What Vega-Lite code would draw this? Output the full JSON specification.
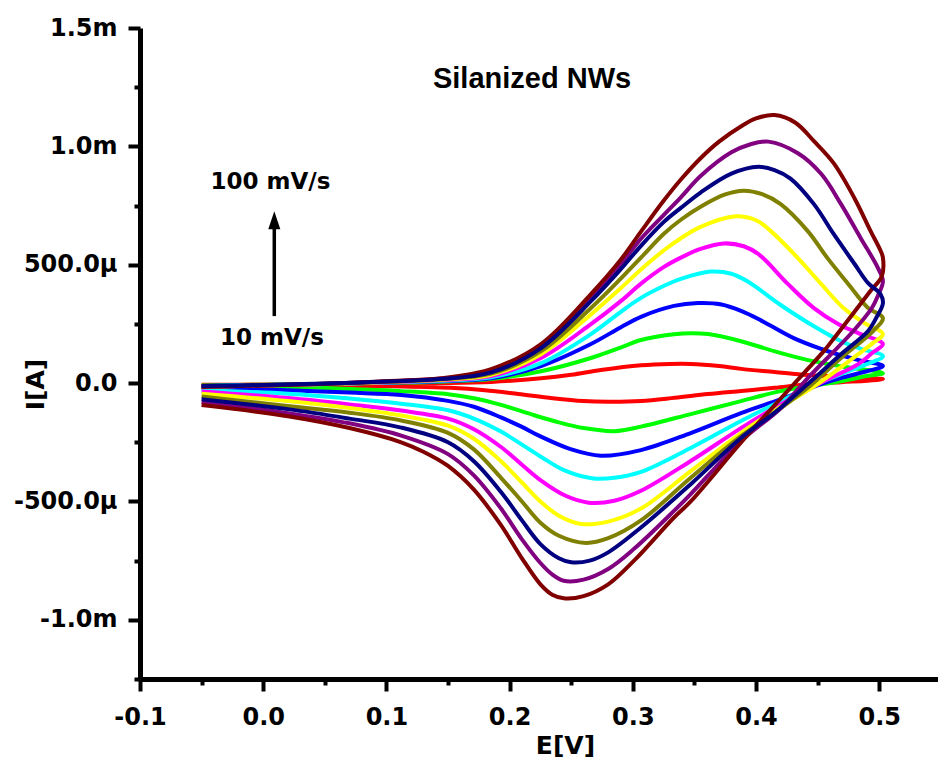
{
"$schema": "https://vega.github.io/schema/vega-lite/v6.json",
"width": 798, "height": 651,
"autosize": {"type": "none"},
"padding": {"left": 140, "top": 28, "right": 0, "bottom": 84},
"background": "white",
"config": {"view": {"stroke": null}},
"datasets": {
"cv": [
{"r":10,"E":-0.05,"I":-0.008},{"r":10,"E":0,"I":-0.006},{"r":10,"E":0.05,"I":-0.004},{"r":10,"E":0.1,"I":-0.002},{"r":10,"E":0.144,"I":0},{"r":10,"E":0.185,"I":0.005},{"r":10,"E":0.2255,"I":0.02},{"r":10,"E":0.25,"I":0.035},{"r":10,"E":0.274,"I":0.055},{"r":10,"E":0.3066,"I":0.075},{"r":10,"E":0.33,"I":0.081},{"r":10,"E":0.347,"I":0.081},{"r":10,"E":0.37,"I":0.072},{"r":10,"E":0.388,"I":0.06},{"r":10,"E":0.415,"I":0.047},{"r":10,"E":0.442,"I":0.034},{"r":10,"E":0.475,"I":0.025},{"r":10,"E":0.503,"I":0.017},
{"r":10,"E":0.49,"I":0.01},{"r":10,"E":0.469,"I":0.004},{"r":10,"E":0.44,"I":-0.006},{"r":10,"E":0.415,"I":-0.02},{"r":10,"E":0.388,"I":-0.033},{"r":10,"E":0.361,"I":-0.046},{"r":10,"E":0.334,"I":-0.062},{"r":10,"E":0.3066,"I":-0.076},{"r":10,"E":0.28,"I":-0.079},{"r":10,"E":0.26,"I":-0.076},{"r":10,"E":0.235,"I":-0.064},{"r":10,"E":0.207,"I":-0.046},{"r":10,"E":0.18,"I":-0.03},{"r":10,"E":0.152,"I":-0.02},{"r":10,"E":0.1,"I":-0.013},{"r":10,"E":0.05,"I":-0.01},{"r":10,"E":0,"I":-0.008},{"r":10,"E":-0.05,"I":-0.007},

{"r":20,"E":-0.05,"I":-0.01},{"r":20,"E":0,"I":-0.007},{"r":20,"E":0.05,"I":-0.004},{"r":20,"E":0.1,"I":0.001},{"r":20,"E":0.144,"I":0.006},{"r":20,"E":0.185,"I":0.017},{"r":20,"E":0.2255,"I":0.05},{"r":20,"E":0.266,"I":0.106},{"r":20,"E":0.29,"I":0.15},{"r":20,"E":0.3066,"I":0.182},{"r":20,"E":0.3334,"I":0.206},{"r":20,"E":0.347,"I":0.211},{"r":20,"E":0.361,"I":0.207},{"r":20,"E":0.3878,"I":0.177},{"r":20,"E":0.4146,"I":0.135},{"r":20,"E":0.4422,"I":0.097},{"r":20,"E":0.47,"I":0.07},{"r":20,"E":0.503,"I":0.042},
{"r":20,"E":0.49,"I":0.03},{"r":20,"E":0.469,"I":0.008},{"r":20,"E":0.445,"I":-0.012},{"r":20,"E":0.42,"I":-0.034},{"r":20,"E":0.3878,"I":-0.076},{"r":20,"E":0.347,"I":-0.131},{"r":20,"E":0.3066,"I":-0.184},{"r":20,"E":0.285,"I":-0.203},{"r":20,"E":0.26,"I":-0.19},{"r":20,"E":0.24,"I":-0.166},{"r":20,"E":0.22,"I":-0.136},{"r":20,"E":0.193,"I":-0.092},{"r":20,"E":0.171,"I":-0.064},{"r":20,"E":0.15,"I":-0.047},{"r":20,"E":0.112,"I":-0.034},{"r":20,"E":0.07,"I":-0.025},{"r":20,"E":0.02,"I":-0.015},{"r":20,"E":-0.05,"I":-0.01},

{"r":30,"E":-0.05,"I":-0.012},{"r":30,"E":0,"I":-0.008},{"r":30,"E":0.05,"I":-0.004},{"r":30,"E":0.1,"I":0.002},{"r":30,"E":0.144,"I":0.008},{"r":30,"E":0.185,"I":0.02},{"r":30,"E":0.2255,"I":0.072},{"r":30,"E":0.266,"I":0.165},{"r":30,"E":0.29,"I":0.235},{"r":30,"E":0.3066,"I":0.28},{"r":30,"E":0.3334,"I":0.326},{"r":30,"E":0.353,"I":0.338},{"r":30,"E":0.372,"I":0.332},{"r":30,"E":0.3878,"I":0.305},{"r":30,"E":0.404,"I":0.265},{"r":30,"E":0.4306,"I":0.19},{"r":30,"E":0.453,"I":0.144},{"r":30,"E":0.466,"I":0.122},{"r":30,"E":0.485,"I":0.095},{"r":30,"E":0.503,"I":0.072},
{"r":30,"E":0.49,"I":0.05},{"r":30,"E":0.475,"I":0.03},{"r":30,"E":0.455,"I":0},{"r":30,"E":0.4203,"I":-0.068},{"r":30,"E":0.3878,"I":-0.127},{"r":30,"E":0.347,"I":-0.211},{"r":30,"E":0.3066,"I":-0.283},{"r":30,"E":0.274,"I":-0.307},{"r":30,"E":0.25,"I":-0.28},{"r":30,"E":0.225,"I":-0.225},{"r":30,"E":0.21,"I":-0.185},{"r":30,"E":0.193,"I":-0.145},{"r":30,"E":0.171,"I":-0.1},{"r":30,"E":0.15,"I":-0.075},{"r":30,"E":0.112,"I":-0.05},{"r":30,"E":0.07,"I":-0.04},{"r":30,"E":0.02,"I":-0.03},{"r":30,"E":-0.05,"I":-0.02},

{"r":40,"E":-0.05,"I":-0.013},{"r":40,"E":0,"I":-0.009},{"r":40,"E":0.05,"I":-0.004},{"r":40,"E":0.1,"I":0.003},{"r":40,"E":0.144,"I":0.01},{"r":40,"E":0.185,"I":0.025},{"r":40,"E":0.2255,"I":0.084},{"r":40,"E":0.266,"I":0.207},{"r":40,"E":0.29,"I":0.3},{"r":40,"E":0.3066,"I":0.36},{"r":40,"E":0.325,"I":0.41},{"r":40,"E":0.339,"I":0.44},{"r":40,"E":0.363,"I":0.471},{"r":40,"E":0.38,"I":0.462},{"r":40,"E":0.393,"I":0.43},{"r":40,"E":0.42,"I":0.33},{"r":40,"E":0.447,"I":0.24},{"r":40,"E":0.469,"I":0.177},{"r":40,"E":0.485,"I":0.145},{"r":40,"E":0.503,"I":0.114},
{"r":40,"E":0.49,"I":0.08},{"r":40,"E":0.475,"I":0.05},{"r":40,"E":0.455,"I":0.008},{"r":40,"E":0.4203,"I":-0.076},{"r":40,"E":0.3878,"I":-0.16},{"r":40,"E":0.347,"I":-0.274},{"r":40,"E":0.3066,"I":-0.375},{"r":40,"E":0.285,"I":-0.4},{"r":40,"E":0.268,"I":-0.403},{"r":40,"E":0.245,"I":-0.37},{"r":40,"E":0.225,"I":-0.31},{"r":40,"E":0.21,"I":-0.26},{"r":40,"E":0.193,"I":-0.205},{"r":40,"E":0.171,"I":-0.15},{"r":40,"E":0.15,"I":-0.115},{"r":40,"E":0.112,"I":-0.087},{"r":40,"E":0.07,"I":-0.065},{"r":40,"E":0.02,"I":-0.045},{"r":40,"E":-0.05,"I":-0.03},

{"r":50,"E":-0.05,"I":-0.014},{"r":50,"E":0,"I":-0.01},{"r":50,"E":0.05,"I":-0.004},{"r":50,"E":0.1,"I":0.004},{"r":50,"E":0.144,"I":0.012},{"r":50,"E":0.185,"I":0.03},{"r":50,"E":0.2255,"I":0.106},{"r":50,"E":0.266,"I":0.249},{"r":50,"E":0.29,"I":0.345},{"r":50,"E":0.3066,"I":0.42},{"r":50,"E":0.325,"I":0.49},{"r":50,"E":0.339,"I":0.53},{"r":50,"E":0.355,"I":0.567},{"r":50,"E":0.374,"I":0.59},{"r":50,"E":0.39,"I":0.578},{"r":50,"E":0.402,"I":0.545},{"r":50,"E":0.426,"I":0.418},{"r":50,"E":0.447,"I":0.317},{"r":50,"E":0.467,"I":0.249},{"r":50,"E":0.483,"I":0.211},{"r":50,"E":0.503,"I":0.165},
{"r":50,"E":0.495,"I":0.13},{"r":50,"E":0.483,"I":0.08},{"r":50,"E":0.455,"I":0.008},{"r":50,"E":0.4146,"I":-0.106},{"r":50,"E":0.3878,"I":-0.19},{"r":50,"E":0.347,"I":-0.329},{"r":50,"E":0.3066,"I":-0.455},{"r":50,"E":0.285,"I":-0.497},{"r":50,"E":0.264,"I":-0.505},{"r":50,"E":0.245,"I":-0.475},{"r":50,"E":0.225,"I":-0.41},{"r":50,"E":0.21,"I":-0.345},{"r":50,"E":0.193,"I":-0.27},{"r":50,"E":0.171,"I":-0.195},{"r":50,"E":0.15,"I":-0.15},{"r":50,"E":0.112,"I":-0.116},{"r":50,"E":0.07,"I":-0.09},{"r":50,"E":0.02,"I":-0.063},{"r":50,"E":-0.05,"I":-0.035},

{"r":60,"E":-0.05,"I":-0.015},{"r":60,"E":0,"I":-0.01},{"r":60,"E":0.05,"I":-0.004},{"r":60,"E":0.1,"I":0.005},{"r":60,"E":0.144,"I":0.014},{"r":60,"E":0.185,"I":0.035},{"r":60,"E":0.2255,"I":0.122},{"r":60,"E":0.266,"I":0.29},{"r":60,"E":0.29,"I":0.4},{"r":60,"E":0.3066,"I":0.48},{"r":60,"E":0.325,"I":0.56},{"r":60,"E":0.339,"I":0.612},{"r":60,"E":0.355,"I":0.66},{"r":60,"E":0.382,"I":0.704},{"r":60,"E":0.4,"I":0.688},{"r":60,"E":0.412,"I":0.642},{"r":60,"E":0.434,"I":0.528},{"r":60,"E":0.453,"I":0.418},{"r":60,"E":0.471,"I":0.317},{"r":60,"E":0.488,"I":0.253},{"r":60,"E":0.503,"I":0.207},
{"r":60,"E":0.495,"I":0.17},{"r":60,"E":0.483,"I":0.122},{"r":60,"E":0.45,"I":-0.004},{"r":60,"E":0.4146,"I":-0.118},{"r":60,"E":0.3878,"I":-0.211},{"r":60,"E":0.347,"I":-0.372},{"r":60,"E":0.3066,"I":-0.53},{"r":60,"E":0.28,"I":-0.585},{"r":60,"E":0.258,"I":-0.595},{"r":60,"E":0.24,"I":-0.56},{"r":60,"E":0.225,"I":-0.5},{"r":60,"E":0.21,"I":-0.42},{"r":60,"E":0.193,"I":-0.33},{"r":60,"E":0.171,"I":-0.235},{"r":60,"E":0.15,"I":-0.18},{"r":60,"E":0.112,"I":-0.137},{"r":60,"E":0.07,"I":-0.105},{"r":60,"E":0.02,"I":-0.076},{"r":60,"E":-0.05,"I":-0.045},

{"r":70,"E":-0.05,"I":-0.015},{"r":70,"E":0,"I":-0.01},{"r":70,"E":0.05,"I":-0.003},{"r":70,"E":0.1,"I":0.006},{"r":70,"E":0.144,"I":0.016},{"r":70,"E":0.185,"I":0.04},{"r":70,"E":0.2255,"I":0.135},{"r":70,"E":0.266,"I":0.317},{"r":70,"E":0.29,"I":0.44},{"r":70,"E":0.3066,"I":0.53},{"r":70,"E":0.325,"I":0.63},{"r":70,"E":0.339,"I":0.69},{"r":70,"E":0.355,"I":0.745},{"r":70,"E":0.375,"I":0.797},{"r":70,"E":0.39,"I":0.813},{"r":70,"E":0.405,"I":0.798},{"r":70,"E":0.42,"I":0.756},{"r":70,"E":0.442,"I":0.642},{"r":70,"E":0.458,"I":0.528},{"r":70,"E":0.475,"I":0.418},{"r":70,"E":0.491,"I":0.317},{"r":70,"E":0.503,"I":0.275},
{"r":70,"E":0.495,"I":0.22},{"r":70,"E":0.469,"I":0.106},{"r":70,"E":0.442,"I":-0.02},{"r":70,"E":0.4146,"I":-0.127},{"r":70,"E":0.3878,"I":-0.224},{"r":70,"E":0.347,"I":-0.4},{"r":70,"E":0.3066,"I":-0.58},{"r":70,"E":0.28,"I":-0.655},{"r":70,"E":0.262,"I":-0.675},{"r":70,"E":0.24,"I":-0.645},{"r":70,"E":0.225,"I":-0.59},{"r":70,"E":0.21,"I":-0.5},{"r":70,"E":0.193,"I":-0.4},{"r":70,"E":0.171,"I":-0.28},{"r":70,"E":0.15,"I":-0.21},{"r":70,"E":0.112,"I":-0.158},{"r":70,"E":0.07,"I":-0.125},{"r":70,"E":0.02,"I":-0.097},{"r":70,"E":-0.05,"I":-0.057},

{"r":90,"E":-0.05,"I":-0.015},{"r":90,"E":0,"I":-0.01},{"r":90,"E":0.05,"I":-0.003},{"r":90,"E":0.1,"I":0.007},{"r":90,"E":0.144,"I":0.018},{"r":90,"E":0.185,"I":0.05},{"r":90,"E":0.2255,"I":0.155},{"r":90,"E":0.266,"I":0.36},{"r":90,"E":0.29,"I":0.5},{"r":90,"E":0.3066,"I":0.61},{"r":90,"E":0.325,"I":0.71},{"r":90,"E":0.339,"I":0.785},{"r":90,"E":0.355,"I":0.875},{"r":90,"E":0.38,"I":0.975},{"r":90,"E":0.395,"I":1.008},{"r":90,"E":0.41,"I":1.02},{"r":90,"E":0.434,"I":0.971},{"r":90,"E":0.453,"I":0.883},{"r":90,"E":0.469,"I":0.756},{"r":90,"E":0.485,"I":0.612},{"r":90,"E":0.499,"I":0.486},{"r":90,"E":0.503,"I":0.43},
{"r":90,"E":0.499,"I":0.37},{"r":90,"E":0.494,"I":0.317},{"r":90,"E":0.479,"I":0.22},{"r":90,"E":0.442,"I":0.021},{"r":90,"E":0.42,"I":-0.106},{"r":90,"E":0.3878,"I":-0.245},{"r":90,"E":0.347,"I":-0.469},{"r":90,"E":0.3334,"I":-0.54},{"r":90,"E":0.301,"I":-0.7},{"r":90,"E":0.28,"I":-0.785},{"r":90,"E":0.26,"I":-0.83},{"r":90,"E":0.244,"I":-0.835},{"r":90,"E":0.235,"I":-0.81},{"r":90,"E":0.225,"I":-0.76},{"r":90,"E":0.21,"I":-0.66},{"r":90,"E":0.193,"I":-0.53},{"r":90,"E":0.171,"I":-0.39},{"r":90,"E":0.15,"I":-0.3},{"r":90,"E":0.112,"I":-0.222},{"r":90,"E":0.07,"I":-0.17},{"r":90,"E":0.02,"I":-0.127},{"r":90,"E":-0.05,"I":-0.08},

{"r":100,"E":-0.05,"I":-0.015},{"r":100,"E":0,"I":-0.01},{"r":100,"E":0.05,"I":-0.003},{"r":100,"E":0.1,"I":0.008},{"r":100,"E":0.144,"I":0.02},{"r":100,"E":0.185,"I":0.059},{"r":100,"E":0.2255,"I":0.165},{"r":100,"E":0.266,"I":0.376},{"r":100,"E":0.29,"I":0.52},{"r":100,"E":0.3066,"I":0.64},{"r":100,"E":0.325,"I":0.77},{"r":100,"E":0.339,"I":0.86},{"r":100,"E":0.355,"I":0.95},{"r":100,"E":0.37,"I":1.02},{"r":100,"E":0.388,"I":1.085},{"r":100,"E":0.4,"I":1.118},{"r":100,"E":0.415,"I":1.132},{"r":100,"E":0.432,"I":1.1},{"r":100,"E":0.447,"I":1.022},{"r":100,"E":0.463,"I":0.929},{"r":100,"E":0.48,"I":0.78},{"r":100,"E":0.493,"I":0.642},{"r":100,"E":0.501,"I":0.56},{"r":100,"E":0.503,"I":0.53},
{"r":100,"E":0.502,"I":0.45},{"r":100,"E":0.493,"I":0.39},{"r":100,"E":0.464,"I":0.194},{"r":100,"E":0.455,"I":0.135},{"r":100,"E":0.442,"I":0.06},{"r":100,"E":0.42,"I":-0.065},{"r":100,"E":0.388,"I":-0.25},{"r":100,"E":0.347,"I":-0.5},{"r":100,"E":0.333,"I":-0.57},{"r":100,"E":0.301,"I":-0.75},{"r":100,"E":0.28,"I":-0.85},{"r":100,"E":0.26,"I":-0.9},{"r":100,"E":0.245,"I":-0.91},{"r":100,"E":0.235,"I":-0.895},{"r":100,"E":0.225,"I":-0.85},{"r":100,"E":0.21,"I":-0.74},{"r":100,"E":0.193,"I":-0.6},{"r":100,"E":0.171,"I":-0.45},{"r":100,"E":0.15,"I":-0.35},{"r":100,"E":0.13,"I":-0.29},{"r":100,"E":0.112,"I":-0.25},{"r":100,"E":0.07,"I":-0.19},{"r":100,"E":0.02,"I":-0.14},{"r":100,"E":-0.05,"I":-0.093},

{"r":80,"E":-0.05,"I":-0.012},{"r":80,"E":0,"I":-0.008},{"r":80,"E":0.05,"I":-0.002},{"r":80,"E":0.1,"I":0.007},{"r":80,"E":0.144,"I":0.017},{"r":80,"E":0.185,"I":0.045},{"r":80,"E":0.2255,"I":0.148},{"r":80,"E":0.266,"I":0.346},{"r":80,"E":0.29,"I":0.48},{"r":80,"E":0.3066,"I":0.58},{"r":80,"E":0.325,"I":0.68},{"r":80,"E":0.339,"I":0.74},{"r":80,"E":0.355,"I":0.805},{"r":80,"E":0.38,"I":0.885},{"r":80,"E":0.402,"I":0.914},{"r":80,"E":0.415,"I":0.9},{"r":80,"E":0.428,"I":0.864},{"r":80,"E":0.447,"I":0.756},{"r":80,"E":0.463,"I":0.63},{"r":80,"E":0.48,"I":0.503},{"r":80,"E":0.491,"I":0.422},{"r":80,"E":0.501,"I":0.376},{"r":80,"E":0.503,"I":0.338},
{"r":80,"E":0.497,"I":0.27},{"r":80,"E":0.491,"I":0.22},{"r":80,"E":0.469,"I":0.122},{"r":80,"E":0.442,"I":-0.004},{"r":80,"E":0.4146,"I":-0.127},{"r":80,"E":0.3878,"I":-0.232},{"r":80,"E":0.347,"I":-0.427},{"r":80,"E":0.3066,"I":-0.61},{"r":80,"E":0.28,"I":-0.715},{"r":80,"E":0.265,"I":-0.75},{"r":80,"E":0.25,"I":-0.757},{"r":80,"E":0.24,"I":-0.74},{"r":80,"E":0.225,"I":-0.68},{"r":80,"E":0.21,"I":-0.58},{"r":80,"E":0.193,"I":-0.46},{"r":80,"E":0.171,"I":-0.33},{"r":80,"E":0.15,"I":-0.25},{"r":80,"E":0.112,"I":-0.188},{"r":80,"E":0.07,"I":-0.15},{"r":80,"E":0.02,"I":-0.11},{"r":80,"E":-0.05,"I":-0.068}
],
"title": [{"E": 0.2182, "I": 1.284, "t": "Silanized NWs"}],
"lbl": [{"E": 0.0059, "I": 0.851, "t": "100 mV/s"}, {"E": 0.0071, "I": 0.192, "t": "10 mV/s"}],
"arrow": [{"E": 0.009, "I": 0.283, "I2": 0.66}],
"head": [{"E": 0.009, "I": 0.688}]
},
"encoding": {
"x": {"field": "E", "type": "quantitative",
 "scale": {"domain": [-0.1, 0.5477], "nice": false, "zero": false},
 "axis": {"title": "E[V]", "grid": false,
  "values": [-0.1,-0.05,0,0.05,0.1,0.15,0.2,0.25,0.3,0.35,0.4,0.45,0.5],
  "labelExpr": "abs(datum.value*10-round(datum.value*10))>0.01 ? '' : (datum.value < -0.001 ? '-' : '') + format(abs(datum.value),'.1f')",
  "tickSize": {"condition": {"test": "abs(datum.value*10-round(datum.value*10))>0.01", "value": 6}, "value": 12},
  "domainColor": "black", "domainWidth": 5, "tickColor": "black", "tickWidth": 4,
  "labelFont": "DejaVu Sans", "labelFontWeight": "bold", "labelFontSize": 24, "labelColor": "black",
  "labelPadding": 14, "labelOverlap": false, "labelFlush": false,
  "titleFont": "DejaVu Sans", "titleFontWeight": "bold", "titleFontSize": 25, "titleColor": "black",
  "titleX": 425, "titleY": 66, "titleAlign": "center", "titleBaseline": "middle"}},
"y": {"field": "I", "type": "quantitative",
 "scale": {"domain": [-1.25, 1.5], "nice": false, "zero": false},
 "axis": {"title": "I[A]", "grid": false,
  "values": [-1.25,-1,-0.75,-0.5,-0.25,0,0.25,0.5,0.75,1,1.25,1.5],
  "labelExpr": "abs(datum.value*2-round(datum.value*2))>0.01 ? '' : datum.value==0 ? '0.0' : (datum.value<0 ? '-' : '') + (abs(datum.value)>=0.999 ? format(abs(datum.value),'.1f')+'m' : format(abs(datum.value)*1000,'.1f')+'µ')",
  "tickSize": {"condition": {"test": "abs(datum.value*2-round(datum.value*2))>0.01", "value": 6}, "value": 12},
  "domainColor": "black", "domainWidth": 5, "tickColor": "black", "tickWidth": 4,
  "labelFont": "DejaVu Sans", "labelFontWeight": "bold", "labelFontSize": 24, "labelColor": "black",
  "labelPadding": 11, "labelOverlap": false, "labelFlush": false,
  "titleFont": "DejaVu Sans", "titleFontWeight": "bold", "titleFontSize": 25, "titleColor": "black",
  "titleX": -105, "titleY": 356, "titleAlign": "center", "titleBaseline": "middle", "titleAngle": -90}}
},
"layer": [
{"data": {"name": "cv"}, "transform": [{"filter": "datum.r != 80"}],
 "mark": {"type": "line", "strokeWidth": 4, "interpolate": "catmull-rom"},
 "encoding": {"color": {"field": "r", "type": "nominal", "legend": null,
   "scale": {"domain": [10,20,30,40,50,60,70,80,90,100], "range": ["#FF0000","#00FF00","#0000FF","#00FFFF","#FF00FF","#FFFF00","#808000","#000080","#800080","#800000"]}},
  "order": {"value": null}}},
{"data": {"name": "cv"}, "transform": [{"filter": "datum.r == 80"}],
 "mark": {"type": "line", "strokeWidth": 4, "interpolate": "catmull-rom"},
 "encoding": {"color": {"field": "r", "type": "nominal", "legend": null,
   "scale": {"domain": [10,20,30,40,50,60,70,80,90,100], "range": ["#FF0000","#00FF00","#0000FF","#00FFFF","#FF00FF","#FFFF00","#808000","#000080","#800080","#800000"]}},
  "order": {"value": null}}},
{"data": {"name": "title"},
 "mark": {"type": "text", "font": "Liberation Sans", "fontWeight": "bold", "fontSize": 29, "align": "center", "baseline": "middle", "color": "black"},
 "encoding": {"text": {"field": "t"}}},
{"data": {"name": "lbl"},
 "mark": {"type": "text", "font": "DejaVu Sans", "fontWeight": "bold", "fontSize": 23, "align": "center", "baseline": "middle", "color": "black"},
 "encoding": {"text": {"field": "t"}}},
{"data": {"name": "arrow"},
 "mark": {"type": "rule", "strokeWidth": 3.5, "color": "black"},
 "encoding": {"y2": {"field": "I2"}}},
{"data": {"name": "head"},
 "mark": {"type": "point", "shape": "M0,-1L0.67,1L-0.67,1Z", "filled": true, "color": "black", "opacity": 1, "size": 324},
 "encoding": {}}
]
}
